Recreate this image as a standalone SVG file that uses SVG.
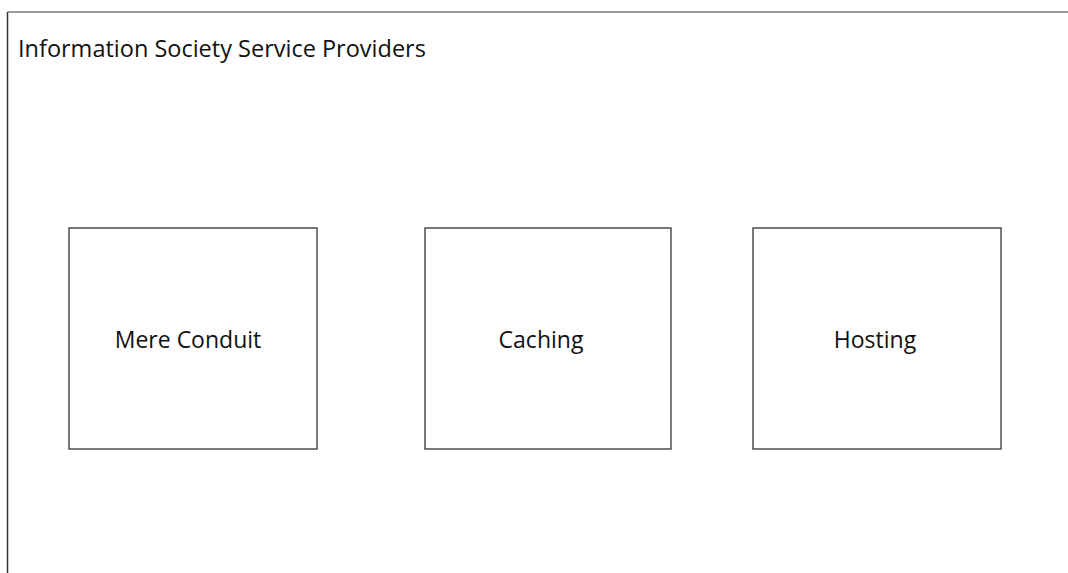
<svg xmlns="http://www.w3.org/2000/svg" width="1068" height="573" viewBox="0 0 1068 573">
<style>
.box{fill:#fff;stroke:#333;stroke-width:1.3}
.t{font-family:"Open Sans","Noto Sans",sans-serif;font-size:23px;fill:#111}
</style>
<rect width="1068" height="573" fill="#fff"/>
<g id="frame">
<line x1="7.5" y1="12" x2="1068" y2="12" stroke="#777" stroke-width="1.5"/>
<line x1="7.5" y1="12" x2="7.5" y2="573" stroke="#333" stroke-width="1.5"/>
<text class="t" x="18" y="57" style="font-size:23.5px">Information Society Service Providers</text>
</g>
<g id="connectors"></g>
<g id="mere-conduit">
<rect class="box" x="69" y="228" width="248" height="221"/>
<text class="t" x="188" y="348" text-anchor="middle">Mere Conduit</text>
</g>
<g id="caching">
<rect class="box" x="425" y="228" width="246" height="221"/>
<text class="t" x="541" y="348" text-anchor="middle">Caching</text>
</g>
<g id="hosting">
<rect class="box" x="753" y="228" width="248" height="221"/>
<text class="t" x="875" y="348" text-anchor="middle">Hosting</text>
</g>
</svg>
